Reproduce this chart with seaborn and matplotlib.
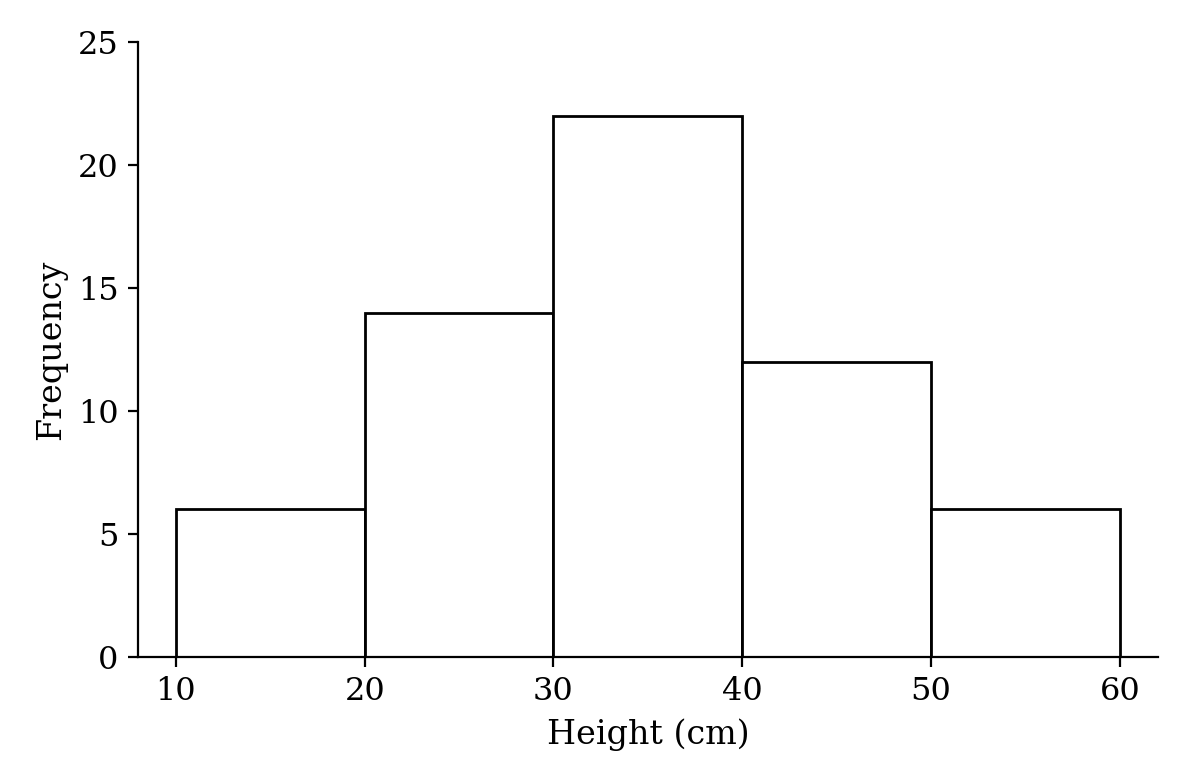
import matplotlib
matplotlib.use("Agg")
import matplotlib.pyplot as plt
import seaborn as sns
import pandas as pd

# Данные гистограммы
bin_edges = [10, 20, 30, 40, 50, 60]
bin_centers = [15, 25, 35, 45, 55]
counts = [6, 14, 22, 12, 6]

df = pd.DataFrame({"height": bin_centers, "count": counts})

sns.set_style("ticks")
plt.rcParams["font.family"] = ["DejaVu Serif"]

fig, ax = plt.subplots(figsize=(5.93, 3.92), dpi=200)
sns.histplot(data=df, x="height", weights="count", bins=bin_edges,
             color="white", edgecolor="black", linewidth=1.0, alpha=1.0, ax=ax)

ax.set_xlim(8, 62)
ax.set_ylim(0, 25)
ax.set_xticks([10, 20, 30, 40, 50, 60])
ax.set_yticks([0, 5, 10, 15, 20, 25])
ax.set_xlabel("Height (cm)", fontsize=12, color="black")
ax.set_ylabel("Frequency", fontsize=12, color="black")
ax.tick_params(labelsize=11.5, colors="black")
sns.despine(ax=ax)
for s in ["left", "bottom"]:
    ax.spines[s].set_color("black")

fig.subplots_adjust(left=0.1165, right=0.976, top=0.946, bottom=0.162)
fig.savefig("out.png", dpi=200)
